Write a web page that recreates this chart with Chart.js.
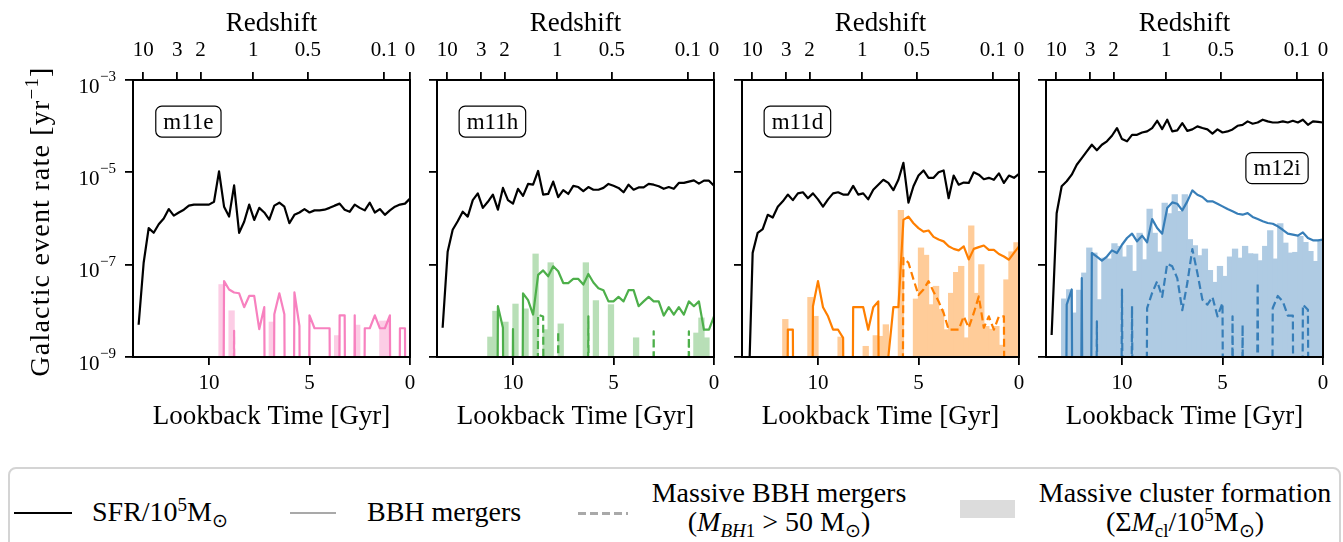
<!DOCTYPE html>
<html>
<head>
<meta charset="utf-8">
<title>Galactic event rates</title>
<script src="https://cdn.jsdelivr.net/npm/chart.js@4.4.1/dist/chart.umd.min.js"></script>
<style>
	body { margin: 0; width: 1343px; height: 542px; overflow: hidden; background: #fff; position: relative; font-family: "Liberation Serif", serif; color: #000; }
	canvas { position: absolute; top: 0; }
	#legendBox { position: absolute; left: 8px; top: 467px; width: 1333px; height: 120px; border: 2px solid #d4d4d4; border-radius: 8px; box-sizing: border-box; }
	.key { position: absolute; }
	.lab { position: absolute; font-size: 28px; line-height: 29px; white-space: nowrap; text-align: center; }
	.sup { font-size: 19px; position: relative; top: -10px; }
	.sub { font-size: 19px; position: relative; top: 6px; }
</style>
</head>
<body>
<div id="legendBox"></div>
<div class="key" style="left:14px; top:512px; width:58px; border-top:2.5px solid #000;"></div>
<div class="lab" style="left:92px; top:497px;">SFR/10<span class="sup">5</span>M<span class="sub">⊙</span></div>
<div class="key" style="left:290px; top:512px; width:46px; border-top:2.5px solid #a9a9a9;"></div>
<div class="lab" style="left:367px; top:497px;">BBH mergers</div>
<div class="key" style="left:578px; top:512px; width:50px; height:2.5px; background:repeating-linear-gradient(90deg, #a9a9a9 0 8px, transparent 8px 12px);"></div>
<div class="lab" style="left:629px; top:478px; width:300px;">Massive BBH mergers<br>(<i>M</i><span class="sub"><i>BH</i>1</span> &gt; 50 M<span class="sub">⊙</span>)</div>
<div class="key" style="left:960px; top:500px; width:55px; height:18px; background:#dcdcdc;"></div>
<div class="lab" style="left:1034px; top:478px; width:302px;">Massive cluster formation<br>(Σ<i>M</i><span class="sub">cl</span>/10<span class="sup">5</span>M<span class="sub">⊙</span>)</div>

<script>
// lookback time of each sample [Gyr]
const lookback = [13.5, 13.25, 13, 12.75, 12.5, 12.25, 12, 11.75, 11.5, 11.25, 11,
	10.75, 10.5, 10.25, 10, 9.75, 9.5, 9.25, 9, 8.75, 8.5, 8.25,
	8, 7.75, 7.5, 7.25, 7, 6.75, 6.5, 6.25, 6, 5.75, 5.5,
	5.25, 5, 4.75, 4.5, 4.25, 4, 3.75, 3.5, 3.25, 3, 2.75,
	2.5, 2.25, 2, 1.75, 1.5, 1.25, 1, 0.75, 0.5, 0.25, 0];

// centres of the cluster formation bins [Gyr]
const binMid = [13.375, 13.125, 12.875, 12.625, 12.375, 12.125, 11.875, 11.625, 11.375,
	11.125, 10.875, 10.625, 10.375, 10.125, 9.875, 9.625, 9.375, 9.125,
	8.875, 8.625, 8.375, 8.125, 7.875, 7.625, 7.375, 7.125, 6.875,
	6.625, 6.375, 6.125, 5.875, 5.625, 5.375, 5.125, 4.875, 4.625,
	4.375, 4.125, 3.875, 3.625, 3.375, 3.125, 2.875, 2.625, 2.375,
	2.125, 1.875, 1.625, 1.375, 1.125, 0.875, 0.625, 0.375, 0.125];

const redshiftLabels = ['10', '3', '2', '1', '0.5', '0.1', '0'];
const redshiftLookback = [13.27, 11.58, 10.42, 7.80, 5.08, 1.30, 0];
const lookbackTicks = [10, 5, 0];
const rateTicks = [1e-9, 1e-7, 1e-5, 1e-3];
const rateExponents = ['\u22129', '\u22127', '\u22125', '\u22123'];
const galaxies = ['m11e', 'm11h', 'm11d', 'm12i'];

// m11e
const sfr_m11e = [5e-9, 1.1e-7, 6.2e-7, 4.9e-7, 7.5e-7, 1e-6, 1.6e-6, 1.15e-6, 1.35e-6, 1.55e-6, 1.9e-6,
	2e-6, 2e-6, 2e-6, 2e-6, 2.3e-6, 1.05e-5, 1.8e-6, 1.1e-6, 5.2e-6, 4.9e-7, 8.5e-7,
	2e-6, 9.3e-7, 1.7e-6, 1.35e-6, 9.5e-7, 1.9e-6, 2.2e-6, 1.8e-6, 7.9e-7, 1.2e-6, 1.35e-6,
	1.6e-6, 1.35e-6, 1.5e-6, 1.5e-6, 1.55e-6, 1.7e-6, 1.9e-6, 2.1e-6, 1.55e-6, 1.4e-6, 2e-6,
	1.7e-6, 1.5e-6, 2.2e-6, 1.35e-6, 1.6e-6, 1.2e-6, 1.5e-6, 1.8e-6, 2e-6, 2.1e-6, 2.7e-6];
const bbh_m11e = [0, 0, 0, 0, 0, 0, 0, 0, 0, 0, 0,
	0, 0, 0, 0, 0, 0, 4.4e-8, 2.9e-8, 2.5e-8, 2.4e-8, 1.2e-8,
	2.1e-8, 2.1e-8, 4e-9, 1.2e-8, 0, 8.4e-9, 2.4e-8, 8.4e-9, 0, 2.5e-8, 4.7e-9,
	0, 8e-9, 4.2e-9, 4.2e-9, 4.2e-9, 4.2e-9, 0, 8e-9, 8e-9, 0, 8e-9,
	0, 4.2e-9, 4.2e-9, 8e-9, 4.2e-9, 4.2e-9, 8e-9, 0, 4.2e-9, 4.2e-9, 0];
const massive_m11e = [0, 0, 0, 0, 0, 0, 0, 0, 0, 0, 0,
	0, 0, 0, 0, 0, 0, 0, 0, 3.7e-9, 0, 0,
	0, 0, 0, 0, 0, 0, 0, 0, 0, 0, 0,
	0, 0, 0, 0, 0, 0, 0, 0, 0, 0, 0,
	0, 0, 0, 0, 0, 0, 0, 0, 0, 0, 0];
const clusters_m11e = [null, null, null, null, null, null, null, null, null,
	null, null, null, null, null, null, null, 3.7e-8, null,
	1e-8, null, null, null, null, null, null, null, 5.7e-9,
	null, null, null, null, null, null, null, null, null,
	null, null, null, 2.9e-9, null, null, null, 4.9e-9, null,
	null, null, null, 6e-9, 6e-9, null, null, null, null];

// m11h
const sfr_m11h = [4.3e-9, 1.9e-7, 5.7e-7, 8.7e-7, 1.4e-6, 1.1e-6, 2.5e-6, 3.5e-6, 1.7e-6, 2.3e-6, 3.3e-6,
	1.55e-6, 4.6e-6, 2.5e-6, 2.1e-6, 4.4e-6, 3.1e-6, 5.6e-6, 5.4e-6, 1.07e-5, 3.3e-6, 3.4e-6,
	6.3e-6, 2.9e-6, 4.1e-6, 3.4e-6, 5.1e-6, 4.8e-6, 3.9e-6, 4.8e-6, 4.2e-6, 4.2e-6, 4.6e-6,
	5.6e-6, 5.1e-6, 4.6e-6, 3.7e-6, 5.4e-6, 4.2e-6, 4.7e-6, 4.7e-6, 5.6e-6, 5.4e-6, 5e-6,
	4.4e-6, 4.8e-6, 4.4e-6, 5.9e-6, 5.9e-6, 6.3e-6, 6.7e-6, 5.7e-6, 6.6e-6, 6.6e-6, 5.1e-6];
const bbh_m11h = [0, 0, 0, 0, 0, 0, 0, 0, 0, 0, 0,
	1.26e-8, 4.3e-9, 0, 4e-9, 0, 2.4e-8, 1.7e-8, 8.3e-9, 6e-8, 7.5e-8, 5.6e-8,
	9.2e-8, 7.2e-8, 4e-8, 4e-8, 4.9e-8, 4.9e-8, 3.7e-8, 6.3e-8, 4.1e-8, 3.1e-8, 2.8e-8,
	1.6e-8, 1.6e-8, 2e-8, 1.6e-8, 2.8e-8, 2.8e-8, 1.26e-8, 1.6e-8, 2e-8, 1.6e-8, 1.6e-8,
	7.9e-9, 1.2e-8, 8.3e-9, 1.2e-8, 8.3e-9, 1.6e-8, 1.26e-8, 1.6e-8, 3.9e-9, 3.9e-9, 7.6e-9];
const massive_m11h = [0, 0, 0, 0, 0, 0, 0, 0, 0, 0, 0,
	0, 0, 0, 0, 0, 0, 0, 0, 8.3e-9, 7.5e-9, 0,
	0, 3.6e-9, 0, 0, 0, 0, 0, 7.6e-9, 0, 0, 0,
	0, 0, 0, 0, 0, 0, 0, 0, 0, 3.6e-9, 0,
	0, 0, 0, 0, 0, 3.6e-9, 0, 0, 0, 0, 0];
const clusters_m11h = [null, null, null, null, null, null, null, null, null,
	2.7e-9, 9.8e-9, null, 5.7e-9, null, 1.4e-8, null, 1.1e-8, null,
	1.7e-7, null, 3.9e-9, 1.1e-7, null, 5.2e-9, null, null, null,
	null, 1.1e-7, null, 1.66e-8, null, null, 1.36e-8, null, null,
	null, null, 2.6e-9, null, null, null, null, null, null,
	null, null, null, null, null, 3.3e-9, 7e-9, 2.6e-9, null];

// m11d
const sfr_m11d = [3e-11, 1.8e-7, 4.9e-7, 5.9e-7, 1.2e-6, 1.05e-6, 1.8e-6, 2.35e-6, 3.3e-6, 2.5e-6, 3.5e-6,
	3.7e-6, 2.75e-6, 3.5e-6, 2.6e-6, 1.8e-6, 2.6e-6, 3.5e-6, 3.7e-6, 3.3e-6, 3.3e-6, 5.1e-6,
	3.3e-6, 3.5e-6, 2.6e-6, 4.2e-6, 5.4e-6, 6.9e-6, 5.9e-6, 4.1e-6, 6.9e-6, 1.6e-5, 2.2e-6,
	5e-6, 8.5e-6, 1.1e-5, 7.6e-6, 7.6e-6, 1e-5, 1.1e-5, 2.75e-6, 8.5e-6, 5.4e-6, 6e-6,
	5.9e-6, 1e-5, 8.9e-6, 7.1e-6, 7.6e-6, 6.9e-6, 9.5e-6, 5.9e-6, 8.5e-6, 7.6e-6, 9.3e-6];
const bbh_m11d = [0, 0, 0, 0, 0, 0, 0, 0, 3.9e-9, 3.9e-9, 0,
	0, 0, 1.26e-8, 4.4e-8, 1.2e-8, 7.6e-9, 3.9e-9, 3.9e-9, 2.6e-9, 0, 1.2e-8,
	1.2e-8, 1.2e-8, 3.9e-9, 1.2e-8, 1.6e-8, 0, 1e-9, 1.2e-8, 1.2e-8, 9.3e-7, 1.1e-6,
	7.9e-7, 6.2e-7, 5.2e-7, 5.5e-7, 4e-7, 3.5e-7, 3.2e-7, 2.5e-7, 2.2e-7, 2.04e-7, 2.5e-7,
	1.3e-7, 2.2e-7, 2.4e-7, 2.6e-7, 2.1e-7, 2.1e-7, 1.7e-7, 1.5e-7, 1.28e-7, 1.8e-7, 2.5e-7];
const massive_m11d = [0, 0, 0, 0, 0, 0, 0, 0, 0, 0, 0,
	0, 0, 0, 0, 0, 0, 0, 0, 0, 0, 0,
	0, 0, 0, 0, 0, 0, 0, 0, 0, 1.4e-7, 1.1e-7,
	4.8e-8, 2.2e-8, 2.9e-8, 4.4e-8, 2.6e-8, 1.6e-8, 9e-9, 3.9e-9, 3.9e-9, 3.9e-9, 7.6e-9,
	4.3e-9, 9e-9, 2.05e-8, 4.3e-9, 7.6e-9, 3.9e-9, 7.6e-9, 7.6e-9, 0, 0, 0];
const clusters_m11d = [null, null, null, null, null, null, null, 6.5e-9, null,
	null, null, null, 1.95e-8, 7.6e-9, null, null, null, null,
	2.7e-9, null, null, null, null, 1.7e-9, null, 2.9e-9, 2.8e-9,
	5e-9, null, null, 1.5e-6, null, null, 1.8e-8, 2.3e-7, 1.6e-7,
	1.36e-8, 3.4e-8, 1.07e-8, 3.9e-9, 2.4e-8, 6.8e-8, 9.2e-8, 2.6e-9, 6.9e-7,
	2.4e-8, 1e-7, 4.6e-9, 4e-9, 4.6e-9, 1.8e-9, 4.7e-8, 1.9e-7, 3e-7];

// m12i
const sfr_m12i = [3e-9, 1.3e-6, 5e-6, 6.4e-6, 8.9e-6, 1.46e-5, 2.04e-5, 2.84e-5, 3.96e-5, 3e-5, 3.96e-5,
	4.7e-5, 6.2e-5, 9.1e-5, 5.25e-5, 4.7e-5, 6.5e-5, 6.5e-5, 7.3e-5, 7.7e-5, 9.1e-5, 1.31e-4,
	8.65e-5, 1.38e-4, 7.7e-5, 8.1e-5, 1.16e-4, 7.9e-5, 8.5e-5, 9.9e-5, 9.1e-5, 8.5e-5, 6.9e-5,
	8.5e-5, 7.3e-5, 7.7e-5, 8.5e-5, 1.02e-4, 1.07e-4, 1.27e-4, 1.13e-4, 1.2e-4, 1.38e-4, 1.27e-4,
	1.2e-4, 1.2e-4, 1.27e-4, 1.2e-4, 1.31e-4, 1.2e-4, 1.38e-4, 1.07e-4, 1.27e-4, 1.24e-4, 1.2e-4];
const bbh_m12i = [0, 0, 0, 1.36e-8, 2.9e-8, 0, 5.1e-8, 0, 1.79e-7, 1.5e-7, 1.22e-7,
	1.5e-7, 2.04e-7, 1.79e-7, 2.7e-7, 3.78e-7, 4.7e-7, 3.2e-7, 4.25e-7, 3.04e-7, 9.7e-7, 6.2e-7,
	4.7e-7, 1.69e-6, 2.23e-6, 2.09e-6, 1.5e-6, 2.35e-6, 4.06e-6, 3.27e-6, 2.92e-6, 2.35e-6, 2.35e-6,
	2.09e-6, 1.83e-6, 1.6e-6, 1.43e-6, 1.27e-6, 1.21e-6, 1.31e-6, 1.08e-6, 9.7e-7, 8.7e-7, 8e-7,
	7.7e-7, 6.76e-7, 5.7e-7, 4.7e-7, 4.46e-7, 4.25e-7, 5e-7, 3.78e-7, 3.36e-7, 3.36e-7, 3.5e-7];
const massive_m12i = [0, 0, 0, 0, 0, 0, 0, 0, 0, 5.9e-9, 0,
	0, 0, 0, 2.9e-8, 0, 1.26e-8, 0, 0, 1.15e-8, 2.44e-8, 4.36e-8,
	2e-8, 1.05e-7, 9.2e-8, 5.1e-8, 1.03e-8, 4e-8, 2.18e-7, 6.6e-8, 1.75e-8, 1.36e-8, 2e-8,
	7.6e-9, 1.48e-8, 0, 7.6e-9, 0, 5e-9, 0, 0, 4.1e-8, 0, 0,
	1.15e-8, 2.1e-8, 1.6e-8, 7.9e-9, 7.9e-9, 0, 1.36e-8, 1.06e-8, 0, 0, 0];
const clusters_m12i = [null, null, 1.81e-8, 2.88e-8, 9e-9, 2.8e-8, 6.6e-8, 2.3e-7, 1.79e-7,
	1.75e-8, 1.39e-7, 1.33e-7, 2.85e-7, 2.5e-7, 1.47e-7, 2.6e-7, 7.2e-8, 4.8e-7,
	1.28e-7, 1.6e-6, 4.8e-7, 1.88e-7, 2.16e-6, 1.27e-6, 3.27e-6, 1.43e-6, 3.27e-6,
	3.5e-7, 2.58e-7, 1.57e-7, 2.18e-7, 7.5e-8, 4.15e-8, 9.2e-8, 5.6e-8, 1.47e-7,
	2.18e-7, 1.39e-7, 2.5e-7, 1.73e-7, 1.7e-7, 1.22e-7, 2.5e-7, 5.45e-7, 1.33e-7,
	7.7e-7, 2.94e-7, 1.79e-7, 1.85e-7, 4.1e-7, 3.04e-7, 1.94e-7, 1.18e-7, 3.2e-7];

// layout (page pixels)
const plotLeft = [133, 437, 742, 1046];
const axisRoom = [133, 20, 20, 20];
const PLOT_W = 277, PLOT_TOP = 80, PLOT_BOTTOM = 357, CANVAS_H = 440, RIGHT_ROOM = 16;
const X_MAX = 13.78;
const BAR_PX = 5.5;
const LINE_W = 2.2;
const SERIF = '"Liberation Serif", serif';
const tickFont = { family: SERIF, size: 21 };
const titleFont = { family: SERIF, size: 27 };

function tickGrid() {
	return { display: true, drawOnChartArea: false, drawTicks: true, tickLength: 8, tickWidth: 1.8, lineWidth: 1.8, color: '#000', offset: false };
}

const panelDecor = {
	id: 'panelDecor',
	afterDatasetsDraw(chart, args, opts) {
		const ctx = chart.ctx, a = chart.chartArea;
		ctx.save();
		ctx.strokeStyle = '#000';
		ctx.lineWidth = 2;
		ctx.strokeRect(a.left, a.top, a.right - a.left, a.bottom - a.top);

		// galaxy name box
		ctx.font = '23px ' + SERIF;
		const w = ctx.measureText(opts.name).width + 15, h = 31;
		const cx = a.left + opts.boxX * (a.right - a.left), cy = a.top + opts.boxY * (a.bottom - a.top);
		ctx.beginPath();
		ctx.roundRect(cx - w / 2, cy - h / 2, w, h, 6);
		ctx.fillStyle = '#fff';
		ctx.fill();
		ctx.lineWidth = 1.2;
		ctx.stroke();
		ctx.fillStyle = '#000';
		ctx.textAlign = 'center';
		ctx.textBaseline = 'middle';
		ctx.fillText(opts.name, cx, cy + 1);

		if (opts.rateAxis) {
			const y = chart.scales.y;
			const right = a.left - 17;
			ctx.textBaseline = 'alphabetic';
			rateTicks.forEach((v, i) => {
				const py = y.getPixelForValue(v);
				ctx.font = '15px ' + SERIF;
				const ew = ctx.measureText(rateExponents[i]).width;
				ctx.textAlign = 'left';
				ctx.fillText(rateExponents[i], right - ew, py + 1);
				ctx.font = '21px ' + SERIF;
				ctx.textAlign = 'right';
				ctx.fillText('10', right - ew - 0.5, py + 12.5);
			});
			// rotated axis title with a superscript
			const parts = [['Galactic event rate [yr', 28, 0], ['\u22121', 19, -11], [']', 28, 0]];
			let total = 0;
			parts.forEach(p => { ctx.font = p[1] + 'px ' + SERIF; total += ctx.measureText(p[0]).width + 1.2 * p[0].length; });
			ctx.translate(a.left - 84, (a.top + a.bottom) / 2 + 3);
			ctx.rotate(-Math.PI / 2);
			ctx.textAlign = 'left';
			let x = -total / 2;
			parts.forEach(p => {
				ctx.font = p[1] + 'px ' + SERIF;
				ctx.letterSpacing = '1.2px';
				ctx.fillText(p[0], x, p[2]);
				x += ctx.measureText(p[0]).width;
			});
		}
		ctx.restore();
	}
};

class Panel {
	constructor(index, sfr, bbh, massive, clusters, color, fill, boxAt) {
		this.index = index;
		this.name = galaxies[index];
		this.sfr = sfr;
		this.bbh = bbh;
		this.massive = massive;
		this.clusters = clusters;
		this.color = color;
		this.fill = fill;
		this.boxAt = boxAt;
	}

	createCanvas() {
		const c = document.createElement('canvas');
		c.width = axisRoom[this.index] + PLOT_W + RIGHT_ROOM;
		c.height = CANVAS_H;
		c.style.left = (plotLeft[this.index] - axisRoom[this.index]) + 'px';
		document.body.appendChild(c);
		return c;
	}

	createDatasets() {
		const line = vals => lookback.map((t, i) => ({ x: t, y: vals[i] > 0 ? vals[i] : 1e-30 }));
		const common = { type: 'line', pointRadius: 0, borderWidth: LINE_W, tension: 0, borderJoinStyle: 'round' };
		return [
			Object.assign({ label: 'SFR', data: line(this.sfr), borderColor: '#000', order: 0 }, common),
			Object.assign({ label: 'BBH mergers', data: line(this.bbh), borderColor: this.color, order: 1 }, common),
			Object.assign({ label: 'Massive BBH mergers', data: line(this.massive), borderColor: this.color, borderDash: [8, 4], order: 2 }, common),
			{
				type: 'bar', label: 'Massive cluster formation', order: 3,
				data: binMid.map((t, i) => ({ x: t, y: this.clusters[i] })),
				backgroundColor: this.fill, borderWidth: 0, barThickness: BAR_PX, inflateAmount: 0.4
			}
		];
	}

	createScales() {
		const room = axisRoom[this.index];
		return {
			x: {
				type: 'linear', position: 'bottom', min: 0, max: X_MAX, reverse: true, offset: false,
				afterBuildTicks: ax => { ax.ticks = lookbackTicks.map(v => ({ value: v })); },
				afterFit: ax => { ax.height = CANVAS_H - PLOT_BOTTOM; },
				ticks: { font: tickFont, color: '#000', padding: 6.3, autoSkip: false, maxRotation: 0 },
				grid: tickGrid(), border: { display: false },
				title: { display: true, text: 'Lookback Time [Gyr]', font: titleFont, color: '#000', padding: { top: 0, bottom: 6.9 } }
			},
			x2: {
				type: 'linear', position: 'top', min: 0, max: X_MAX, reverse: true, offset: false,
				afterBuildTicks: ax => { ax.ticks = redshiftLookback.map(v => ({ value: v })); },
				afterFit: ax => { ax.height = PLOT_TOP; },
				ticks: { font: tickFont, color: '#000', padding: 8.5, autoSkip: false, maxRotation: 0, callback: (v, i) => redshiftLabels[i] },
				grid: tickGrid(), border: { display: false },
				title: { display: true, text: 'Redshift', font: titleFont, color: '#000', padding: { top: 8, bottom: 0 } }
			},
			y: {
				type: 'logarithmic', position: 'left', min: 1e-9, max: 1e-3,
				afterBuildTicks: ax => { ax.ticks = rateTicks.map(v => ({ value: v })); },
				afterFit: ax => { ax.width = room; },
				ticks: { display: false },
				grid: tickGrid(), border: { display: false }
			},
			y2: {
				type: 'linear', position: 'right',
				afterFit: ax => { ax.width = RIGHT_ROOM; },
				ticks: { display: false }, grid: { display: false }, border: { display: false }
			}
		};
	}

	createSettings() {
		return {
			type: 'line',
			data: { datasets: this.createDatasets() },
			options: {
				responsive: false,
				animation: false,
				events: [],
				layout: { padding: 0 },
				scales: this.createScales(),
				plugins: {
					legend: { display: false },
					tooltip: { enabled: false },
					panelDecor: { name: this.name, boxX: this.boxAt[0], boxY: this.boxAt[1], rateAxis: this.index === 0 }
				}
			},
			plugins: [panelDecor]
		};
	}

	plotChart() {
		new Chart(this.createCanvas(), this.createSettings());
	}
}

Chart.defaults.font.family = SERIF;
Chart.defaults.color = '#000';

new Panel(0, sfr_m11e, bbh_m11e, massive_m11e, clusters_m11e, '#f781bf', '#fccde5', [0.2, 0.15]).plotChart();
new Panel(1, sfr_m11h, bbh_m11h, massive_m11h, clusters_m11h, '#4daf4a', '#b8dfb7', [0.2, 0.15]).plotChart();
new Panel(2, sfr_m11d, bbh_m11d, massive_m11d, clusters_m11d, '#ff7f00', '#ffcc99', [0.2, 0.15]).plotChart();
new Panel(3, sfr_m12i, bbh_m12i, massive_m12i, clusters_m12i, '#377eb8', '#afcbe3', [0.834, 0.318]).plotChart();
</script>
</body>
</html>
